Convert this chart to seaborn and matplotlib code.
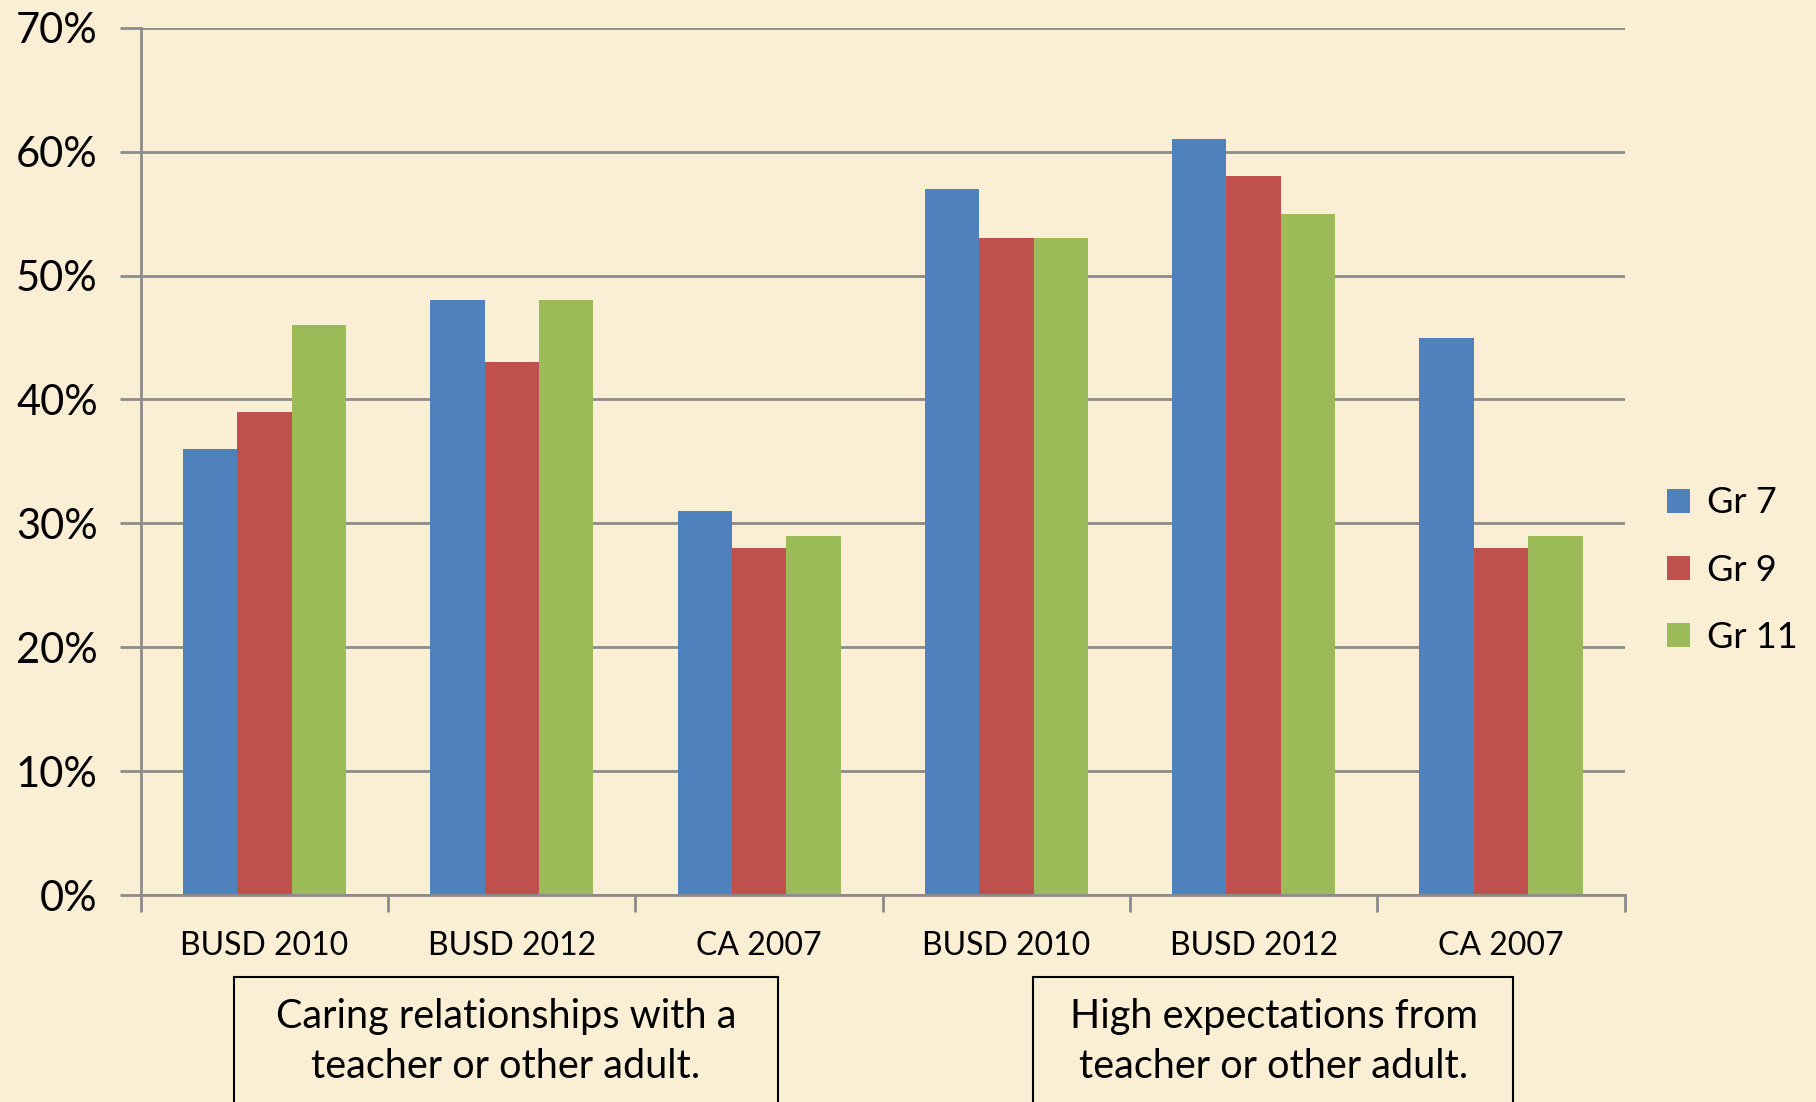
import pandas as pd
import matplotlib
matplotlib.use("Agg")
import matplotlib.pyplot as plt
from matplotlib.patches import Rectangle
from matplotlib.ticker import FixedLocator, FuncFormatter
import seaborn as sns

# --- data ---
slots = ["BUSD 2010", "BUSD 2012", "CA 2007", "BUSD 2010", "BUSD 2012", "CA 2007"]
grades = ["Gr 7", "Gr 9", "Gr 11"]
gr7 = [36, 48, 31, 57, 61, 45]
gr9 = [39, 43, 28, 53, 58, 28]
gr11 = [46, 48, 29, 53, 55, 29]
box_labels = ["Caring relationships with a\nteacher or other adult.",
              "High expectations from\nteacher or other adult."]

colors = ["#4F81BD", "#C0504D", "#9BBB59"]
bg = "#FAEED4"
grid_c = "#8C8C8C"

rows = []
for i, slot in enumerate(slots):
    for g, vals in zip(grades, [gr7, gr9, gr11]):
        rows.append({"slot": f"{i}|{slot}", "grade": g, "value": vals[i]})
df = pd.DataFrame(rows)
order = [f"{i}|{s}" for i, s in enumerate(slots)]

sns.set_style("white")
plt.rcParams["font.family"] = ["Lato", "DejaVu Sans"]
plt.rcParams["text.color"] = "black"
plt.rcParams["xtick.color"] = "black"
plt.rcParams["ytick.color"] = "black"

fig = plt.figure(figsize=(18.16, 11.02), dpi=100, facecolor=bg)
ax = fig.add_axes([0.0776, 0.1878, 0.817, 0.787])
ax.set_facecolor(bg)

sns.barplot(data=df, x="slot", y="value", hue="grade", order=order,
            hue_order=grades, palette=colors, width=0.66, gap=0,
            linewidth=0, saturation=1, ax=ax, legend=True)

ax.set_xlim(-0.5, len(slots) - 0.5)
ax.set_ylim(0, 70)
ax.yaxis.set_major_locator(FixedLocator(range(0, 71, 10)))
ax.yaxis.set_major_formatter(FuncFormatter(lambda v, p: f"{v:.0f}%"))
ax.set_axisbelow(True)
ax.grid(axis="y", color=grid_c, linewidth=2)

# category boundary ticks (major) and centred labels (minor)
ax.xaxis.set_major_locator(FixedLocator([i - 0.5 for i in range(len(slots) + 1)]))
ax.xaxis.set_major_formatter(FuncFormatter(lambda v, p: ""))
ax.xaxis.set_minor_locator(FixedLocator(range(len(slots))))
ax.set_xticklabels(slots, minor=True)
ax.tick_params(axis="x", which="major", bottom=True, length=12, width=2,
               color=grid_c, direction="out")
ax.tick_params(axis="x", which="minor", bottom=True, length=0, labelsize=23,
               pad=26, labelcolor="black")
ax.tick_params(axis="y", left=True, length=15, width=2, color=grid_c,
               labelsize=30, pad=16, labelcolor="black")
ax.set_xlabel("")
ax.set_ylabel("")

for s in ["top", "right"]:
    ax.spines[s].set_visible(False)
for s in ["left", "bottom"]:
    ax.spines[s].set_color(grid_c)
    ax.spines[s].set_linewidth(2)

handles, labels = ax.get_legend_handles_labels()
ax.get_legend().remove()
fig.legend(handles, labels, loc="center left", bbox_to_anchor=(0.9, 0.4825),
           frameon=False, fontsize=26, handlelength=0.65, handleheight=0.65,
           handletextpad=0.45, labelspacing=0.95)

# label boxes under the axis
for x0, w, cx, txt in [(0.1289, 0.2996, 0.2786, box_labels[0]),
                       (0.5688, 0.2643, 0.7015, box_labels[1])]:
    fig.patches.append(Rectangle((x0, -0.02), w, 0.1334, transform=fig.transFigure,
                                 facecolor="none", edgecolor="black", linewidth=1.5))
    fig.text(cx, 0.055, txt, ha="center", va="center", fontsize=28.5, linespacing=1.42)

fig.savefig("out.png", dpi=100, facecolor=bg)
